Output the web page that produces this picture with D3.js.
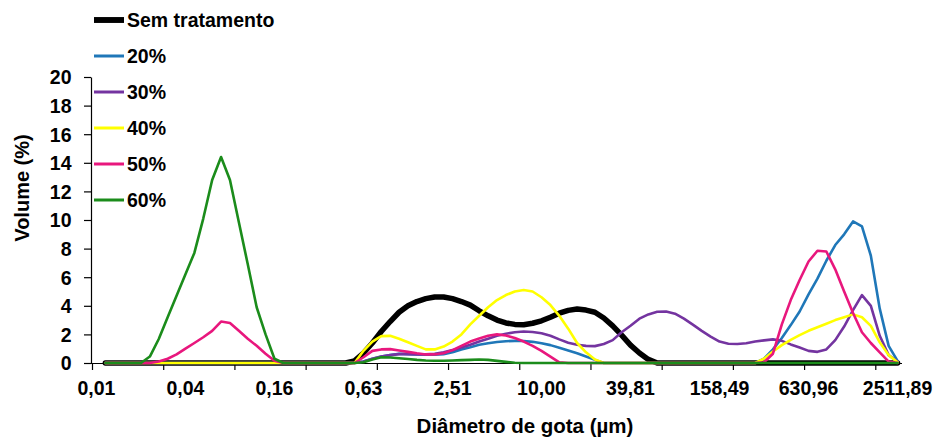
<!DOCTYPE html>
<html>
<head>
<meta charset="utf-8">
<script src="https://cdn.jsdelivr.net/npm/d3@7"></script>
<style>
  html, body { margin: 0; padding: 0; background: #fff; }
  svg text { font-family: "Liberation Sans", Arial, Helvetica, sans-serif; font-weight: bold; fill: #000; }
</style>
</head>
<body>
<svg id="chart" width="938" height="439"></svg>
<script>
// Droplet size classes (µm), logarithmic steps of 10^0.06
const diameters = [
  0.010, 0.011, 0.013, 0.015, 0.017, 0.020, 0.023, 0.026, 0.030, 0.035,
  0.040, 0.046, 0.052, 0.060, 0.069, 0.079, 0.091, 0.105, 0.120, 0.138,
  0.158, 0.182, 0.209, 0.240, 0.275, 0.316, 0.363, 0.417, 0.479, 0.550,
  0.631, 0.724, 0.832, 0.955, 1.096, 1.259, 1.445, 1.660, 1.905, 2.188,
  2.512, 2.884, 3.311, 3.802, 4.365, 5.012, 5.754, 6.607, 7.586, 8.710,
  10.000, 11.482, 13.183, 15.136, 17.378, 19.953, 22.909, 26.303, 30.200, 34.674,
  39.811, 45.709, 52.481, 60.256, 69.183, 79.433, 91.201, 104.713, 120.226, 138.038,
  158.489, 181.970, 208.930, 239.883, 275.423, 316.228, 363.078, 416.869, 478.630, 549.541,
  630.957, 724.436, 831.764, 954.993, 1096.478, 1258.925, 1445.440, 1659.587, 1905.461, 2187.762,
  2511.886
];

// Volume (%) per size class
const semTratamento = [
  null, 0, 0, 0, 0, 0, 0, 0, 0, 0,
  0, 0, 0, 0, 0, 0, 0, 0, 0, 0,
  0, 0, 0, 0, 0, 0, 0, 0, 0, 0.15,
  0.7, 1.4, 2.2, 2.9, 3.55, 4.0, 4.3, 4.5, 4.62, 4.62,
  4.5, 4.3, 4.05, 3.65, 3.3, 3.0, 2.8, 2.7, 2.68, 2.78,
  2.95, 3.2, 3.48, 3.68, 3.77, 3.7, 3.55, 3.15, 2.6, 1.95,
  1.25, 0.7, 0.25, 0, 0, 0, 0, 0, 0, 0,
  0, 0, 0, 0, 0, 0, 0, 0, 0, 0,
  0, 0, 0, 0, 0, 0, 0, 0, 0, 0,
  0
];
const p20 = [
  null, 0, 0, 0, 0, 0, 0, 0, 0, 0,
  0, 0, 0, 0, 0, 0, 0, 0, 0, 0,
  0, 0, 0, 0, 0, 0, 0, 0, 0, 0,
  0.1, 0.3, 0.45, 0.55, 0.65, 0.62, 0.6, 0.58, 0.58, 0.62,
  0.75, 0.95, 1.1, 1.27, 1.38, 1.47, 1.52, 1.55, 1.54, 1.48,
  1.38, 1.25, 1.07, 0.88, 0.68, 0.45, 0.22, 0, 0, 0,
  0, 0, 0, 0, 0, 0, 0, 0, 0, 0,
  0, 0, 0, 0, 0, 0.3, 0.95, 1.75, 2.65, 3.6,
  4.8, 5.9, 7.15, 8.25, 9.0, 9.9, 9.55, 7.5, 3.8, 1.2,
  0.15
];
const p30 = [
  null, 0, 0, 0, 0, 0, 0, 0, 0, 0,
  0, 0, 0, 0, 0, 0, 0, 0, 0, 0,
  0, 0, 0, 0, 0, 0, 0, 0, 0, 0,
  0.1, 0.3, 0.45, 0.55, 0.62, 0.62, 0.6, 0.6, 0.65, 0.75,
  0.9, 1.08, 1.28, 1.5, 1.7, 1.9, 2.05, 2.15, 2.2, 2.17,
  2.08, 1.9, 1.65, 1.42, 1.28, 1.2, 1.18, 1.33, 1.6, 2.15,
  2.6, 3.1, 3.4, 3.58, 3.6, 3.45, 3.1, 2.68, 2.25, 1.85,
  1.5, 1.35, 1.33, 1.38, 1.5, 1.58, 1.65, 1.55, 1.3, 1.08,
  0.85, 0.78, 0.95, 1.6, 2.55, 3.7, 4.75, 4.0, 1.9, 0.55,
  0.1
];
const p40 = [
  null, 0, 0, 0, 0, 0, 0, 0, 0, 0,
  0, 0, 0, 0, 0, 0, 0, 0, 0, 0,
  0, 0, 0, 0, 0, 0, 0, 0, 0, 0,
  0.85, 1.5, 1.88, 1.9, 1.7, 1.45, 1.2, 0.95, 0.95, 1.15,
  1.5, 2.0, 2.7, 3.3, 3.9, 4.4, 4.75, 5.0, 5.1, 5.0,
  4.6, 4.05, 3.3, 2.4, 1.4, 0.75, 0.25, 0, 0, 0,
  0, 0, 0, 0, 0, 0, 0, 0, 0, 0,
  0, 0, 0, 0, 0, 0.3, 0.8, 1.25, 1.62, 1.95,
  2.25, 2.5, 2.75, 3.0, 3.2, 3.4, 3.2, 2.6, 1.45, 0.55,
  0.05
];
const p50 = [
  null, 0, 0, 0, 0, 0, 0, 0.1, 0.3, 0.6,
  1.0, 1.4, 1.8, 2.25, 2.9, 2.8, 2.25, 1.7, 1.2, 0.65,
  0.15, 0, 0, 0, 0, 0, 0, 0, 0, 0,
  0.4, 0.85, 0.95, 0.97, 0.88, 0.78, 0.68, 0.6, 0.6, 0.68,
  0.9, 1.2, 1.5, 1.72, 1.9, 2.0, 1.92, 1.75, 1.5, 1.2,
  0.85, 0.45, 0.05, 0, 0, 0, 0, 0, 0, 0,
  0, 0, 0, 0, 0, 0, 0, 0, 0, 0,
  0, 0, 0, 0, 0, 0.05, 0.65, 2.7, 4.4, 5.8,
  7.1, 7.85, 7.8, 6.55, 5.0, 3.5, 2.15, 1.4, 0.75, 0.1,
  0
];
const p60 = [
  null, 0, 0, 0, 0, 0, 0.45, 1.68, 3.2, 4.7,
  6.2, 7.7, 10.1, 12.8, 14.4, 12.8, 9.85, 6.9, 3.9, 2.0,
  0.3, 0, 0, 0, 0, 0, 0, 0, 0, 0,
  0.05, 0.25, 0.4, 0.38, 0.33, 0.28, 0.22, 0.18, 0.16, 0.16,
  0.18, 0.2, 0.22, 0.24, 0.22, 0.15, 0.08, 0.02, 0, 0,
  0, 0, 0, 0, 0, 0, 0, 0, 0, 0,
  0, 0, 0, 0, 0, 0, 0, 0, 0, 0,
  0, 0, 0, 0, 0, 0, 0, 0, 0, 0,
  0, 0, 0, 0, 0, 0, 0, 0, 0, 0,
  0
];

const seriesNames = ["Sem tratamento", "20%", "30%", "40%", "50%", "60%"];
const seriesValues = [semTratamento, p20, p30, p40, p50, p60];
const yTickValues = [0, 2, 4, 6, 8, 10, 12, 14, 16, 18, 20];

// Presentation
const colors = ["#000000", "#1f77b8", "#7434a0", "#ffff00", "#e8177d", "#1b8c1b"];
const widths = [5.5, 2.6, 2.6, 2.6, 2.6, 2.6];
const labelEvery = 10;   // size classes between axis labels
const tickEvery = 8;     // size classes between tick marks

const svg = d3.select("#chart");
const plotLeft = 92, plotRight = 902, plotTop = 77, plotBottom = 363;

const n = diameters.length;
const x = d3.scaleBand().domain(d3.range(n)).range([plotLeft, plotRight]).paddingInner(0).paddingOuter(0);
const xEdge = d3.scaleLinear().domain([0, n]).range([plotLeft, plotRight]);
const y = d3.scaleLinear().domain([0, 20]).range([plotBottom, plotTop]);
const cx = i => x(i) + x.bandwidth() / 2;

const fmt = d3.format(".2f");
const label = d => fmt(d).replace(".", ",");

// Y axis
const yAxis = svg.append("g")
  .attr("transform", `translate(${plotLeft - 1},0)`)
  .call(d3.axisLeft(y).tickValues(yTickValues).tickSize(7).tickSizeOuter(0).tickPadding(12.5).tickFormat(d3.format("d")));
yAxis.selectAll("text").attr("font-size", 19.5).attr("dy", "0.35em");

// X axis: tick marks on class boundaries
const xTicks = svg.append("g")
  .attr("transform", `translate(0,${plotBottom})`)
  .call(d3.axisBottom(xEdge).tickValues(d3.range(0, n, tickEvery)).tickSize(7).tickSizeOuter(0).tickFormat(""));
xTicks.select(".domain").attr("d", `M${plotLeft - 1.5},0.5H${plotRight}`);

// X axis: labels centred on size classes
const xLabels = svg.append("g")
  .attr("transform", `translate(0,${plotBottom})`)
  .call(d3.axisBottom(x).tickValues(d3.range(0, n, labelEvery)).tickSize(0).tickPadding(18).tickFormat(i => label(diameters[i])));
xLabels.select(".domain").remove();
xLabels.selectAll("text").attr("font-size", 19.5);

svg.selectAll(".domain, .tick line").attr("stroke", "#000").attr("stroke-width", 1.2);

// Series lines
const line = d3.line()
  .defined(d => d != null)
  .x((d, i) => cx(i))
  .y(d => y(d));

svg.append("g").selectAll("path")
  .data(seriesValues)
  .join("path")
  .attr("d", line)
  .attr("fill", "none")
  .attr("stroke", (d, i) => colors[i])
  .attr("stroke-width", (d, i) => widths[i])
  .attr("stroke-linejoin", "round")
  .attr("stroke-linecap", "round");

// Legend
const legend = svg.append("g");
const legendY = [20, 56, 92, 128, 164, 200];
seriesNames.forEach((name, i) => {
  legend.append("line")
    .attr("x1", 94).attr("x2", 124)
    .attr("y1", legendY[i]).attr("y2", legendY[i])
    .attr("stroke", colors[i]).attr("stroke-width", widths[i] + 0.4);
  legend.append("text")
    .attr("x", 127).attr("y", legendY[i] + 7)
    .attr("font-size", 19.5)
    .text(name);
});

// Axis titles
svg.append("text")
  .attr("x", 525).attr("y", 433)
  .attr("text-anchor", "middle")
  .attr("font-size", 20.5)
  .text("Diâmetro de gota (µm)");

svg.append("text")
  .attr("transform", "translate(29,188) rotate(-90)")
  .attr("text-anchor", "middle")
  .attr("font-size", 20)
  .text("Volume (%)");
</script>
</body>
</html>
